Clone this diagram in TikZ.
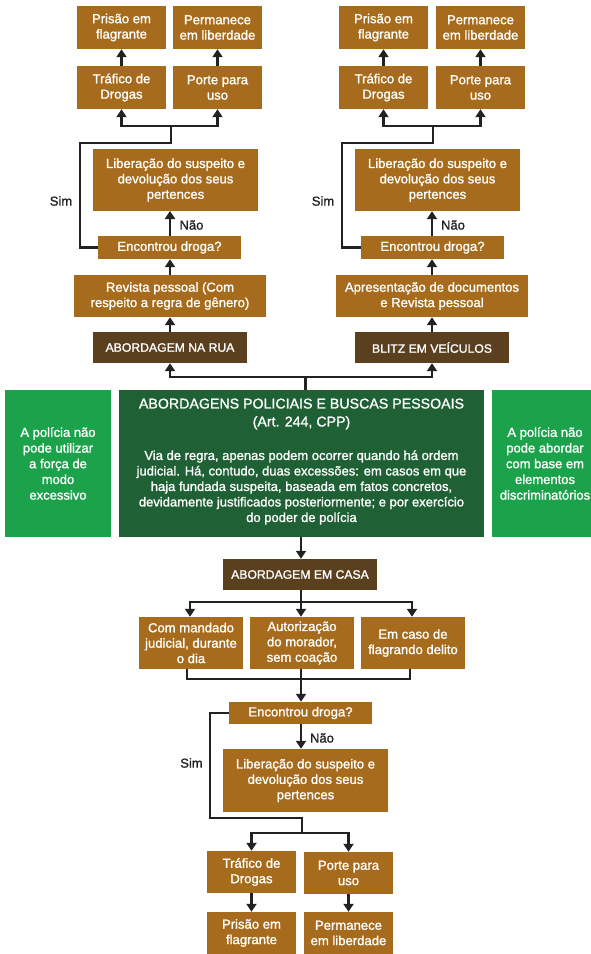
\documentclass[tikz,border=0pt]{standalone}
\usepackage{fontspec}
\setmainfont{Liberation Sans}[FakeBold=1.2]
\usetikzlibrary{arrows.meta}
\definecolor{brownm}{HTML}{A66B1C}
\definecolor{brownd}{HTML}{5B4020}
\definecolor{greend}{HTML}{1F6035}
\definecolor{greenl}{HTML}{1DA24C}
\definecolor{linec}{HTML}{222222}
\tikzset{
  bx/.style 2 args={fill=brownm, text=white, inner sep=0pt, align=center,
    minimum width=#1pt, minimum height=#2pt, font=\fontsize{13.1}{15.4}\selectfont},
  dbx/.style 2 args={bx={#1}{#2}, fill=brownd, font=\fontsize{12.2}{15}\selectfont},
  gbx/.style 2 args={bx={#1}{#2}, fill=greenl, font=\fontsize{13}{15.7}\selectfont},
  conn/.style={draw=linec, line width=2.4pt},
  arr/.style={conn, -{Triangle[width=10pt,length=8pt]}},
  lbl/.style={text=linec, font=\fontsize{13}{15}\selectfont, inner sep=0pt}
}
\begin{document}
\begin{tikzpicture}[x=1pt,y=-1pt]
\path[use as bounding box] (0,0) rectangle (591,954);
\clip (0,0) rectangle (591,954);
% ---------- top left ----------
\node[bx={89}{43}] (p1) at (121.5,27.5) {Prisão em\\flagrante};
\node[bx={89}{43}] (l1) at (217.5,27.5) {Permanece\\em liberdade};
\node[bx={89}{43}] (t1) at (121.5,87.5) {Tráfico de\\Drogas};
\node[bx={89}{43}] (u1) at (217.5,87.5) {Porte para\\uso};
\node[bx={165}{62}] (lib1) at (175.5,180) {Liberação do suspeito e\\devolução dos seus\\pertences};
\node[bx={143}{23}] (enc1) at (169.5,247.5) {Encontrou droga?};
\node[bx={192}{42}] (rev1) at (170,296) {Revista pessoal (Com\\respeito a regra de gênero)};
\node[dbx={154}{31}] (rua) at (170,347.5) {ABORDAGEM NA RUA};
% ---------- top right ----------
\node[bx={89}{43}] (p2) at (383.5,27.5) {Prisão em\\flagrante};
\node[bx={89}{43}] (l2) at (480.5,27.5) {Permanece\\em liberdade};
\node[bx={89}{43}] (t2) at (383.5,87.5) {Tráfico de\\Drogas};
\node[bx={89}{43}] (u2) at (480.5,87.5) {Porte para\\uso};
\node[bx={165}{62}] (lib2) at (437.5,180) {Liberação do suspeito e\\devolução dos seus\\pertences};
\node[bx={143}{23}] (enc2) at (432.5,247.5) {Encontrou droga?};
\node[bx={192}{42}] (apr) at (432,296) {Apresentação de documentos\\e Revista pessoal};
\node[dbx={154}{31}] (blitz) at (432,347.5) {BLITZ EM VEÍCULOS};
% ---------- middle ----------
\node[gbx={106}{147}] (gl) at (58,463.5) {A polícia não\\pode utilizar\\a força de\\modo\\excessivo};
\node[gbx={106}{147}] (gr) at (545,463.5) {A polícia não\\pode abordar\\com base em\\elementos\\discriminatórios};
\node[bx={365}{147}, fill=greend] (main) at (301.5,463.5) {};
\node[text=white, align=center, inner sep=0pt, font=\fontsize{14.2}{18}\selectfont] (mt) at (301.5,414) {ABORDAGENS POLICIAIS E BUSCAS PESSOAIS\\(Art. 244, CPP)};
\node[text=white, align=center, inner sep=0pt, font=\fontsize{13}{15.5}\selectfont] (mb) at (301.5,487.5) {Via de regra, apenas podem ocorrer quando há ordem\\judicial. Há, contudo, duas excessões: em casos em que\\haja fundada suspeita, baseada em fatos concretos,\\devidamente justificados posteriormente; e por exercício\\do poder de polícia};
% ---------- bottom ----------
\node[dbx={154}{31}] (casa) at (300,574.5) {ABORDAGEM EM CASA};
\node[bx={104}{52}] (m1) at (191,643) {Com mandado\\judicial, durante\\o dia};
\node[bx={104}{52}] (m2) at (302,643) {Autorização\\do morador,\\sem coação};
\node[bx={104}{52}] (m3) at (413,643) {Em caso de\\flagrando delito};
\node[bx={143}{22}] (enc3) at (300.5,713) {Encontrou droga?};
\node[bx={165}{63}] (lib3) at (305.5,780.5) {Liberação do suspeito e\\devolução dos seus\\pertences};
\node[bx={89}{42}] (t3) at (251.5,872) {Tráfico de\\Drogas};
\node[bx={89}{42}] (u3) at (348.5,873) {Porte para\\uso};
\node[bx={89}{42}] (p3) at (251.5,933) {Prisão em\\flagrante};
\node[bx={89}{42}] (l3) at (348.5,933) {Permanece\\em liberdade};
% ---------- labels ----------
\node[lbl] (s1) at (61,201) {Sim};
\node[lbl] (n1) at (191.5,225) {Não};
\node[lbl] (s2) at (323,201) {Sim};
\node[lbl] (n2) at (453,225) {Não};
\node[lbl] (s3) at (191.5,763) {Sim};
\node[lbl] (n3) at (322,738) {Não};
% ---------- coordinates ----------
\coordinate (j1) at (171,126);
\coordinate (j2) at (433,126);
\coordinate (jt) at (305.5,377);
\coordinate (jc) at (301,602);
\coordinate (jm) at (301,679);
\coordinate (j3) at (302,833);
% ---------- connectors top left ----------
\draw[arr] (t1.north) -- (p1.south);
\draw[arr] (u1.north) -- (l1.south);
\draw[conn] (enc1.west) -- (80,247.5) -- (80,143) -- (171,143) -- (j1);
\draw[arr] (j1) -| (t1.south);
\draw[arr] (j1) -| (u1.south);
\draw[arr] (170,236) -- (170,211);
\draw[arr] (rev1.north) -- (enc1.south -| rev1.north);
\draw[arr] (rua.north) -- (rev1.south);
% ---------- connectors top right ----------
\draw[arr] (t2.north) -- (p2.south);
\draw[arr] (u2.north) -- (l2.south);
\draw[conn] (enc2.west) -- (342,247.5) -- (342,143) -- (433,143) -- (j2);
\draw[arr] (j2) -| (t2.south);
\draw[arr] (j2) -| (u2.south);
\draw[arr] (enc2.north -| apr.north) -- (lib2.south -| apr.north);
\draw[arr] (apr.north) -- (enc2.south -| apr.north);
\draw[arr] (blitz.north) -- (apr.south);
% ---------- central ----------
\draw[conn] (main.north -| jt) -- (jt);
\draw[arr] (jt) -| (rua.south);
\draw[arr] (jt) -| (blitz.south);
\draw[arr] (main.south -| jc) -- (casa.north -| jc);
% ---------- bottom ----------
\draw[conn] (casa.south -| jc) -- (jc);
\draw[arr] (jc) -| (m1.north -| 190,0);
\draw[arr] (jc) -- (m2.north -| jc);
\draw[arr] (jc) -| (m3.north -| 412,0);
\draw[conn] (m1.south -| 187,0) |- (jm);
\draw[conn] (m3.south -| 410,0) |- (jm);
\draw[arr] (m2.south -| jm) -- (enc3.north -| jm);
\draw[arr] (enc3.south -| jm) -- (lib3.north -| jm);
\draw[conn] (enc3.west) -- (210,713) -- (210,818) -- (302,818) -- (j3);
\draw[arr] (j3) -| (t3.north);
\draw[arr] (j3) -| (u3.north);
\draw[arr] (t3.south) -- (p3.north);
\draw[arr] (u3.south) -- (l3.north);
\end{tikzpicture}
\end{document}
